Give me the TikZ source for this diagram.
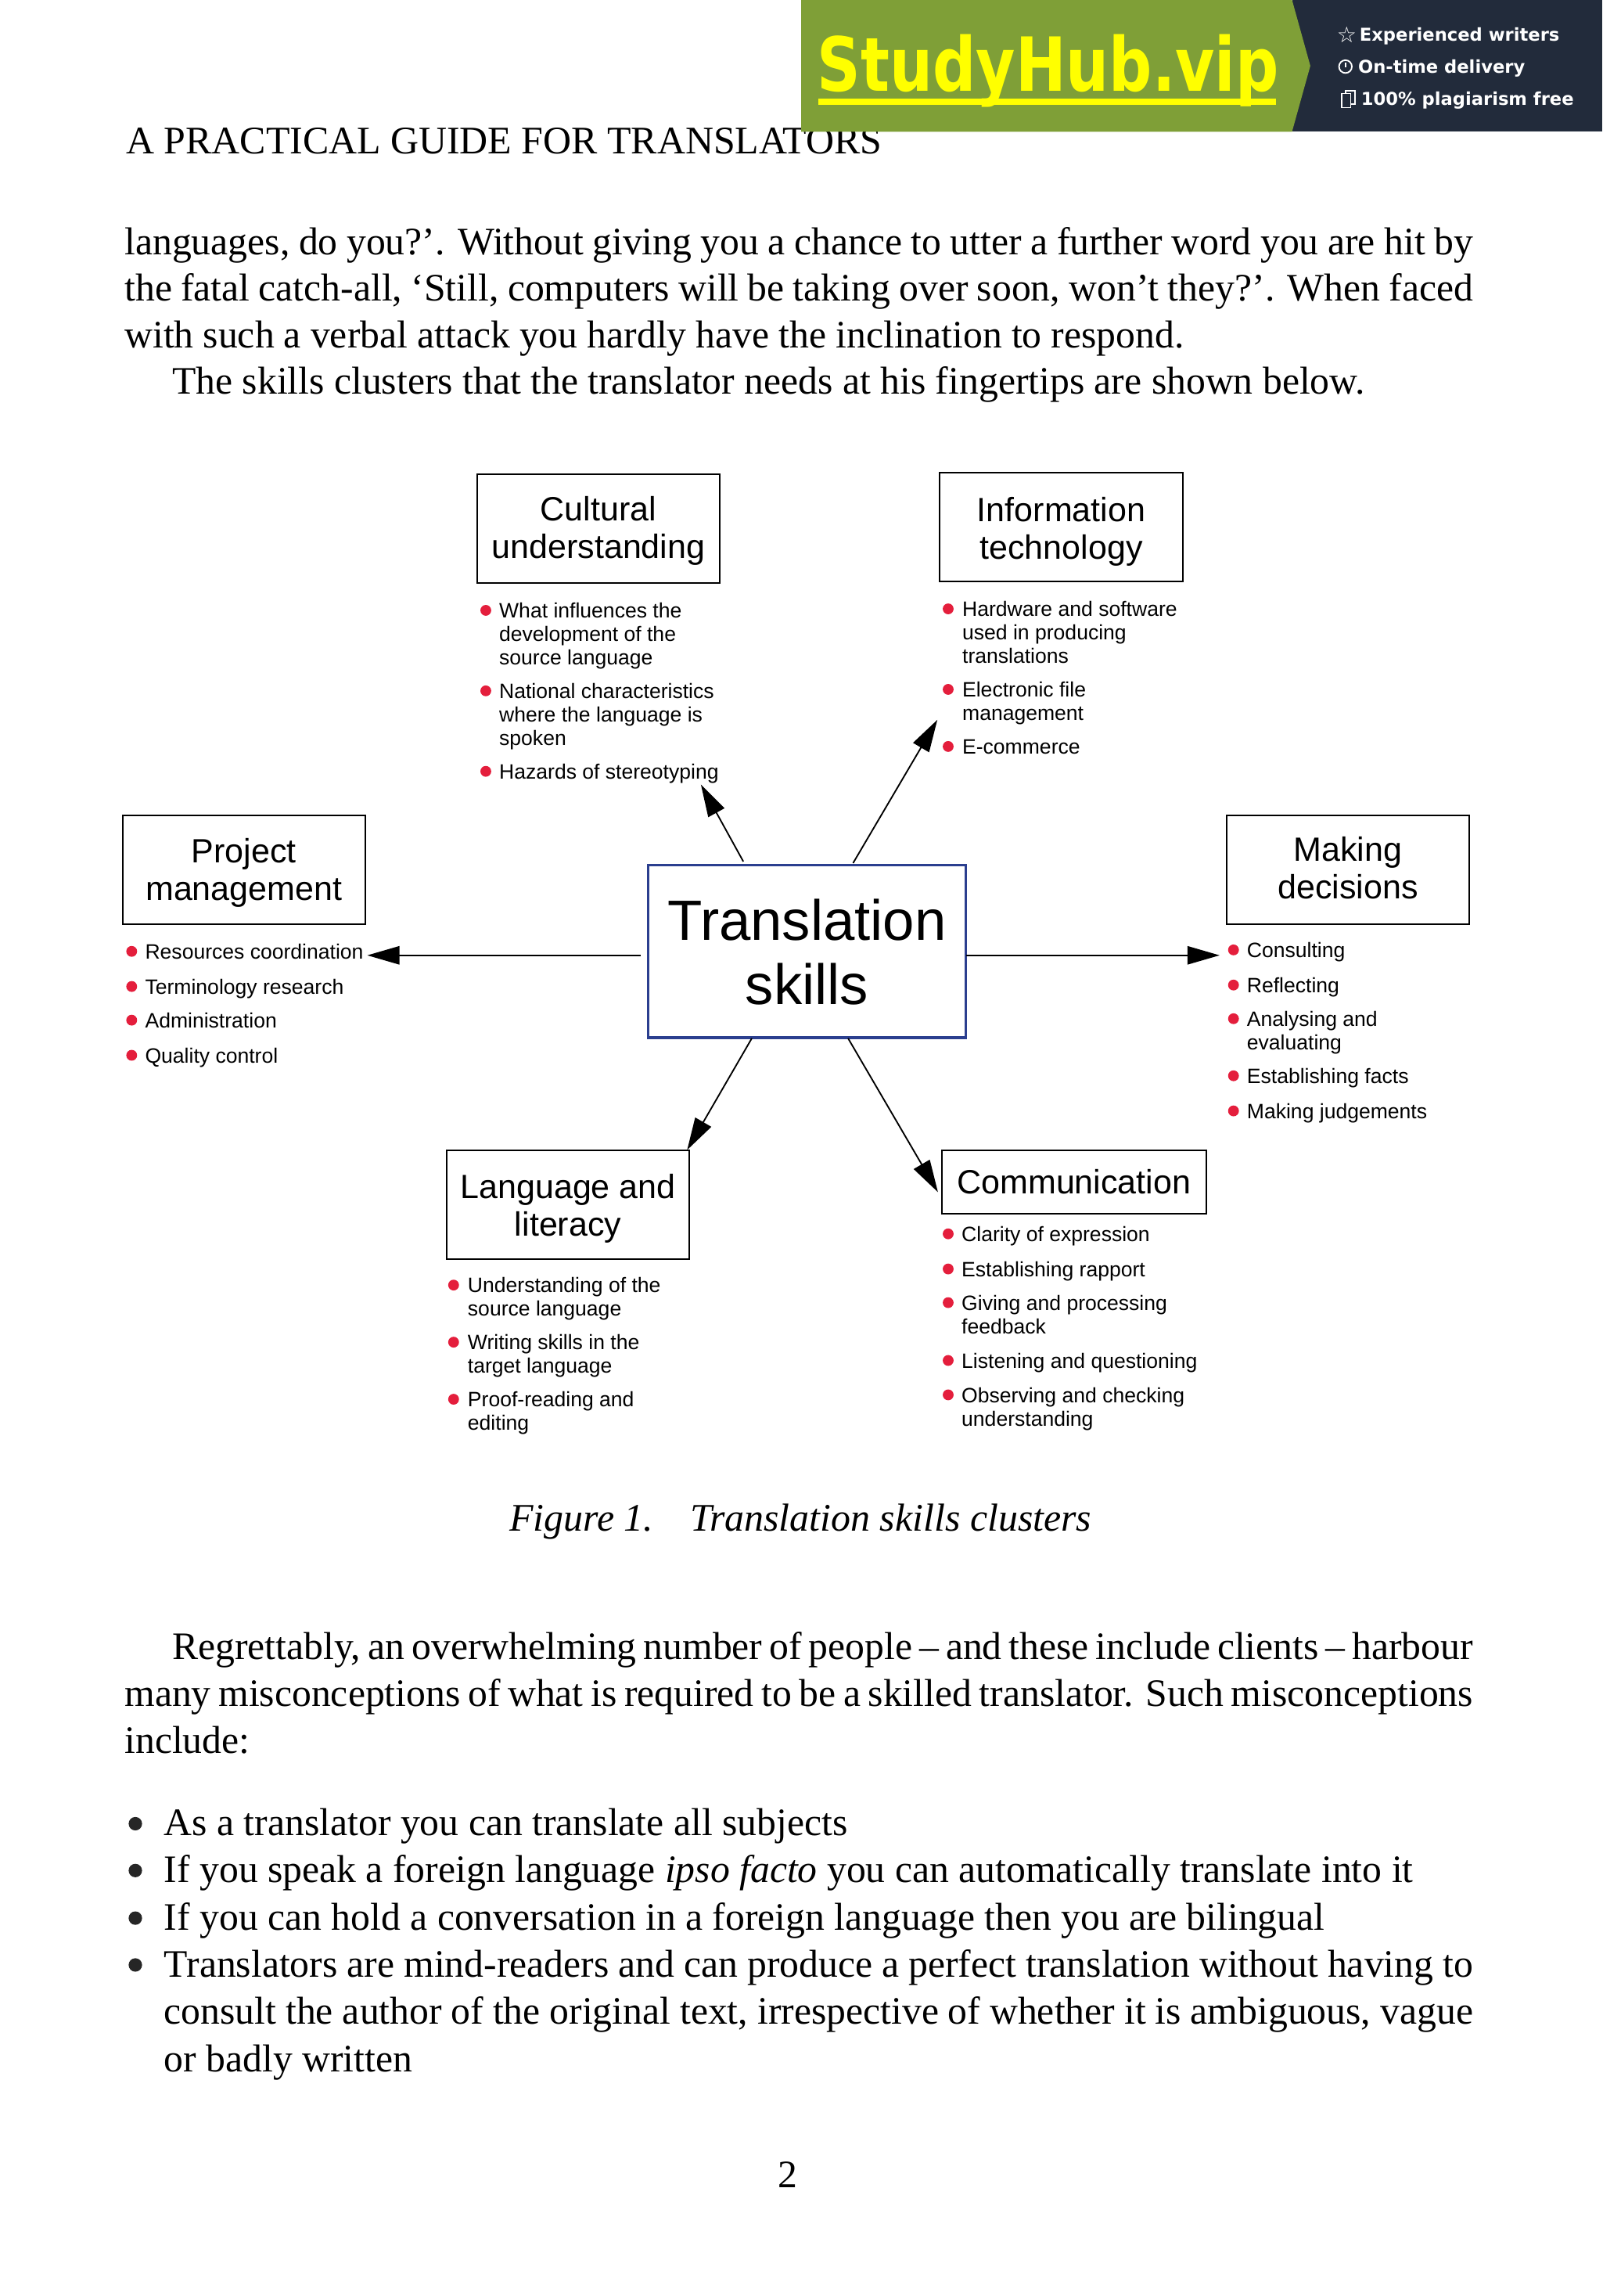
\documentclass[tikz,border=0pt]{standalone}
\usepackage{fontspec}
\usepackage{graphicx}
\setmainfont{Liberation Serif}
\newfontfamily\arialf{Liberation Sans}
\newfontfamily\dejab{DejaVu Sans}
\usetikzlibrary{arrows.meta}
\definecolor{hubgreen}{HTML}{7F9F37}
\definecolor{hubdark}{HTML}{222B3B}
\definecolor{hubyellow}{HTML}{FFFF00}
\definecolor{dotred}{HTML}{E41E3C}
\definecolor{coreblue}{HTML}{2B3F8F}
\tikzset{
 x=1pt,y=-1pt,
 body/.style={anchor=base west,inner sep=0pt,font=\fontsize{26.57}{30}\selectfont},
 titlebox/.style={draw=black,line width=1.1pt,fill=white,align=center,inner sep=0pt,font=\arialf\fontsize{23}{25.6}\selectfont},
 corebox/.style={draw=coreblue,line width=2pt,fill=white,align=center,inner sep=0pt,font=\arialf\fontsize{38.8}{44}\selectfont},
 itemtext/.style={anchor=north west,inner sep=0pt,align=left,font=\arialf\fontsize{14.2}{16}\selectfont},
 arr/.style={line width=1pt,-{Triangle[length=22pt,width=12.5pt]}},
 side/.style={anchor=base west,inner sep=0pt,text=white,font=\dejab\bfseries\fontsize{12.1}{14}\selectfont},
}
\newcommand{\itm}[5]{% name, dot x, text x, baseline, text
  \fill[dotred] (#2,#4-5) circle (3.7pt);
  \node[itemtext] (#1) at (#3,#4-11) {\rule{0pt}{11pt}#5};
}
\newcommand{\jline}[5]{% name, x, baseline, width, text
  \node[body] (#1) at (#2,#3) {\makebox[#4pt][s]{#5}};
}
\newcommand{\ttl}[3]{\rule{0pt}{#1pt}#2\\#3\rule[-5pt]{0pt}{5pt}}
\begin{document}
\begin{tikzpicture}
\useasboundingbox (0,0) rectangle (1095,1568.7);
\fill[white] (0,0) rectangle (1095,1568.7);
% header
\node[body,font=\fontsize{26.67}{30}\selectfont] (hdr) at (86,105) {A PRACTICAL GUIDE FOR TRANSLATORS};
% banner
\fill[hubdark] (883,0) rectangle (1095,90);
\fill[hubgreen] (547.5,0) -- (883,0) -- (895.5,45) -- (883,90) -- (547.5,90) -- cycle;
\node[anchor=base west,inner sep=0pt,text=hubyellow,font=\dejab\bfseries\fontsize{51}{55}\selectfont] (hub) at (558.5,62.5) {\scalebox{.81}[1]{StudyHub.vip}};
\fill[hubyellow] (559,67.3) rectangle (872,71.8);
\node[side] (s1) at (929,28) {Experienced writers};
\node[side] (s2) at (928,50) {On-time delivery};
\node[side] (s3) at (930,72) {100\% plagiarism free};
\node[anchor=base west,inner sep=0pt,text=white,font=\dejab\fontsize{15}{16}\selectfont] (star) at (913.5,29) {☆};
\draw[white,line width=1pt] (919.5,45.5) circle (4.4pt);
\draw[white,line width=.8pt] (919.5,42.8) -- (919.5,45.8);
\draw[white,line width=.8pt] (917,64) rectangle (923,73.5);
\draw[white,line width=.8pt] (919.5,64) -- (919.5,62) -- (926,62) -- (926,71) -- (923,71);
% top text
\jline{b1}{85}{174}{921.5}{languages, do you?’. Without giving you a chance to utter a further word you are hit by}
\jline{b2}{85}{205.7}{921.5}{the fatal catch-all, ‘Still, computers will be taking over soon, won’t they?’. When faced}
\jline{b3}{85}{237.5}{724}{with such a verbal attack you hardly have the inclination to respond.}
\node[body] (b4) at (117.5,269) {The skills clusters that the translator needs at his fingertips are shown below.};
% boxes
\node[titlebox,minimum width=166pt,minimum height=74.5pt] (cul) at (409,361) {\ttl{20}{Cultural}{understanding}};
\node[titlebox,minimum width=166pt,minimum height=74.5pt] (inf) at (725.3,360) {\ttl{23}{Information}{technology}};
\node[titlebox,minimum width=166pt,minimum height=74.5pt] (prj) at (166.7,594.4) {\ttl{21}{Project}{management}};
\node[titlebox,minimum width=166pt,minimum height=74.5pt] (mak) at (921.2,594.4) {\ttl{19}{Making}{decisions}};
\node[titlebox,minimum width=166pt,minimum height=74.5pt] (lng) at (388.2,823) {\ttl{22}{Language and}{literacy}};
\node[titlebox,minimum width=181pt,minimum height=43pt] (com) at (734,807.5) {Communication};
\node[corebox,minimum width=217pt,minimum height=118pt] (core) at (551.5,650) {\rule{0pt}{29pt}Translation\\skills};
% arrows
\coordinate (a1s) at (508,588.6); \coordinate (a1t) at (479,536);
\coordinate (a2s) at (583,589.7); \coordinate (a2t) at (640.6,491.8);
\coordinate (a3s) at (660.5,652.7); \coordinate (a3t) at (833.5,652.7);
\coordinate (a4s) at (513.8,709.4); \coordinate (a4t) at (469.6,785.7);
\coordinate (a5s) at (579.6,709.4); \coordinate (a5t) at (641,814.5);
\coordinate (a6s) at (438,652.7); \coordinate (a6t) at (251,652.7);
\draw[arr] (a1s) -- (a1t);
\draw[arr] (a2s) -- (a2t);
\draw[arr] (a3s) -- (a3t);
\draw[arr] (a4s) -- (a4t);
\draw[arr] (a5s) -- (a5t);
\draw[arr] (a6s) -- (a6t);
% lists
\itm{c1}{332}{341}{422}{What influences the\\development of the\\source language}
\itm{c2}{332}{341}{477}{National characteristics\\where the language is\\spoken}
\itm{c3}{332}{341}{532}{Hazards of stereotyping}
\itm{i1}{648}{657.5}{421}{Hardware and software\\used in producing\\translations}
\itm{i2}{648}{657.5}{476}{Electronic file\\management}
\itm{i3}{648}{657.5}{515}{E-commerce}
\itm{p1}{90}{99}{655}{Resources coordination}
\itm{p2}{90}{99}{679}{Terminology research}
\itm{p3}{90}{99}{702}{Administration}
\itm{p4}{90}{99}{726}{Quality control}
\itm{m1}{843}{852}{654}{Consulting}
\itm{m2}{843}{852}{678}{Reflecting}
\itm{m3}{843}{852}{701}{Analysing and\\evaluating}
\itm{m4}{843}{852}{740}{Establishing facts}
\itm{m5}{843}{852}{764}{Making judgements}
\itm{l1}{310}{319.5}{883}{Understanding of the\\source language}
\itm{l2}{310}{319.5}{922}{Writing skills in the\\target language}
\itm{l3}{310}{319.5}{961}{Proof-reading and\\editing}
\itm{t1}{648}{657}{848}{Clarity of expression}
\itm{t2}{648}{657}{872}{Establishing rapport}
\itm{t3}{648}{657}{895}{Giving and processing\\feedback}
\itm{t4}{648}{657}{934.5}{Listening and questioning}
\itm{t5}{648}{657}{958}{Observing and checking\\understanding}
% caption
\node[body,font=\itshape\fontsize{26.7}{30}\selectfont] (cap) at (348,1046) {Figure 1.\hspace{25pt}Translation skills clusters};
% lower text
\jline{d1}{117.5}{1134}{889}{Regrettably, an overwhelming number of people – and these include clients – harbour}
\jline{d2}{85}{1166}{921.5}{many misconceptions of what is required to be a skilled translator. Such misconceptions}
\node[body] (d3) at (85,1198) {include:};
\foreach \yy in {1246,1278,1310.5,1342.5}{
  \fill[black!85] (92.5,\yy) circle (4.6pt);
}
\node[body] (f1) at (112,1254.3) {As a translator you can translate all subjects};
\node[body] (f2) at (112,1286.3) {If you speak a foreign language \textit{ipso facto} you can automatically translate into it};
\node[body] (f3) at (112,1318.8) {If you can hold a conversation in a foreign language then you are bilingual};
\jline{f4}{112}{1350.8}{894.5}{Translators are mind-readers and can produce a perfect translation without having to}
\jline{f5}{112}{1383}{894.5}{consult the author of the original text, irrespective of whether it is ambiguous, vague}
\node[body] (f6) at (112,1415.3) {or badly written};
\node[body] (pg) at (531.3,1494.7) {2};
\end{tikzpicture}
\end{document}
